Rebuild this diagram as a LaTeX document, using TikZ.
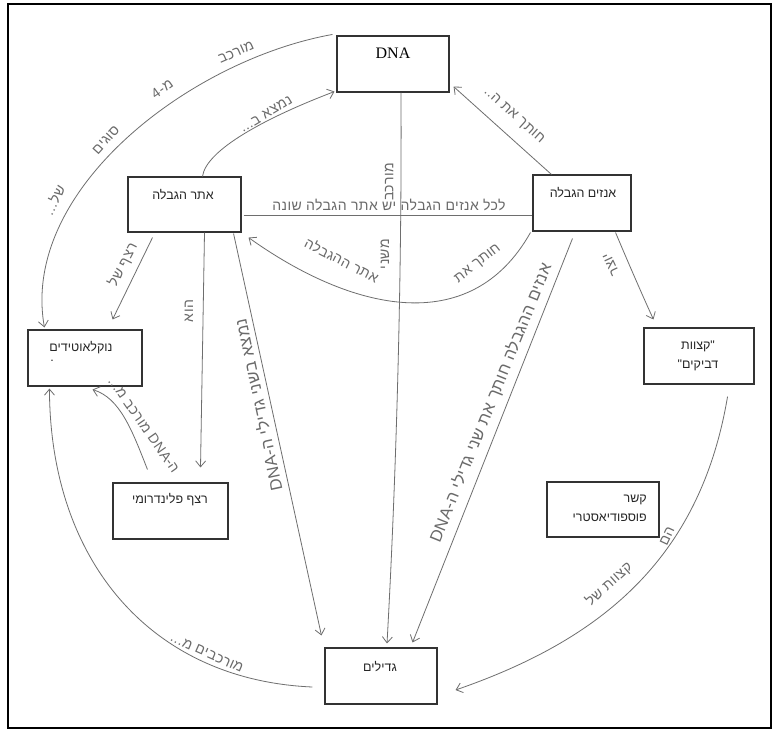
\documentclass[tikz,border=0pt]{standalone}
\usepackage{fontspec}
\setmainfont{Liberation Serif}
\newfontfamily\hebfont[Script=Hebrew]{Liberation Sans}
\newfontfamily\handfont[Script=Hebrew,LetterSpace=3]{Liberation Sans}
\TeXXeTstate=1
\usetikzlibrary{arrows.meta,calc}
\newcommand{\hb}[1]{\beginR#1\endR}
\definecolor{linegray}{HTML}{6E6E6E}
\definecolor{boxgray}{HTML}{333333}
\definecolor{handgray}{HTML}{6A6A6A}
\tikzset{
  box/.style={draw=boxgray, line width=1.1pt, inner sep=0pt},
  boxtext/.style={font=\hebfont\fontsize{12.5}{19}\selectfont, text=black!85, inner sep=0pt, align=center},
  conn/.style={draw=linegray, line width=0.8pt, -{Straight Barb[length=6pt,width=10pt]}},
  plainline/.style={draw=linegray, line width=0.8pt},
  lbl/.style={font=\handfont\fontsize{14}{15}\selectfont, text=handgray, inner sep=0pt},
  lblbig/.style={lbl, font=\handfont\fontsize{16.5}{17}\selectfont},
}
\begin{document}
\begin{tikzpicture}[x=1pt,y=-1pt]
\useasboundingbox (0,0) rectangle (778,732);
\fill[white] (0,0) rectangle (778,732);
\draw[black, line width=2.4pt] (8,4) rectangle (771,728);
% boxes
\node[box, minimum width=112pt, minimum height=56pt] (dna) at (393,64) {};
\node[box, minimum width=98pt, minimum height=56pt] (enz) at (582,203) {};
\node[box, minimum width=113pt, minimum height=55pt] (site) at (184.5,204.5) {};
\node[box, minimum width=114pt, minimum height=56pt] (nuc) at (85,358) {};
\node[box, minimum width=115pt, minimum height=56pt] (pal) at (170.5,511) {};
\node[box, minimum width=112pt, minimum height=56pt] (str) at (381,676) {};
\node[box, minimum width=110pt, minimum height=56pt] (sticky) at (699,356) {};
\node[box, minimum width=112pt, minimum height=55pt] (phos) at (603,509.5) {};
% box texts
\node[font=\fontsize{16}{18}\selectfont, inner sep=0pt] (dnat) at (393,53) {DNA};
\node[boxtext] (enzt) at (583,193) {\hb{אנזים הגבלה}};
\node[boxtext] (sitet) at (183,195) {\hb{אתר הגבלה}};
\node[boxtext] (nuct) at (81,348) {\hb{נוקלאוטידים}};
\node[boxtext] (nucdot) at (52,361) {.};
\node[boxtext] (palt) at (170,500) {\hb{רצף פלינדרומי}};
\node[boxtext] (strt) at (380,667) {\hb{גדילים}};
\node[boxtext] (stickyt) at (698,356) {\hb{"קצוות}\\\hb{דביקים"}};
\node[boxtext, align=right, anchor=east] (phost) at (647,508) {\hb{קשר}\\\hb{פוספודיאסטרי}};
% connectors
\draw[conn] ($(dna.north west)+(-4,-1)$) .. controls (190,60) and (20,190) .. ($(nuc.north west)+(17,-2)$);
\draw[conn] ($(site.north)+(18,0)$) .. controls (206,150) and (265,118) .. ($(dna.south west)+(-2,-1)$);
\draw[conn] ($(enz.north west)+(19,0)$) -- ($(dna.south east)+(4,-6)$);
\draw[plainline] ($(site.east)+(2,10.5)$) -- ($(enz.west)+(0,12)$);
\draw[conn] ($(enz.south west)+(-2,1)$) .. controls (470,340) and (350,310) .. ($(site.south east)+(7,5)$);
\draw[conn] ($(dna.south)+(8,0)$) .. controls (402,300) and (395,500) .. ($(str.north)+(6,-4)$);
\draw[conn] ($(site.south)+(-32,5)$) -- ($(nuc.north east)+(-30,-10)$);
\draw[conn] ($(site.south)+(20,0)$) -- ($(pal.north)+(30,-15)$);
\draw[conn] ($(site.south east)+(-8,1)$) -- ($(str.north west)+(-3,-12)$);
\draw[conn] ($(pal.north west)+(35,-13)$) .. controls (132,430) and (120,398) .. ($(nuc.south east)+(-50,3)$);
\draw[conn] ($(str.west)+(-12,11)$) .. controls (150,680) and (50,560) .. ($(nuc.south west)+(22,2)$);
\draw[conn] ($(enz.south west)+(40,7)$) -- ($(str.north east)+(-25,-5)$);
\draw[conn] ($(enz.south east)+(-16,1)$) .. controls (625,255) and (640,290) .. ($(sticky.north west)+(10,-8)$);
\draw[conn] ($(sticky.south east)+(-27,12)$) .. controls (700,560) and (600,640) .. ($(str.east)+(18,14)$);
% labels
\node[lbl, rotate=24] (l1a) at (236,52) {\hb{מורכב}};
\node[lbl, rotate=35] (l1b) at (162,89) {\hb{מ-4}};
\node[lbl, rotate=48] (l1c) at (106,140) {\hb{סוגים}};
\node[lbl, rotate=64] (l1d) at (54,200) {\hb{של...}};
\node[lbl, rotate=31] (l2) at (266,114) {\hb{נמצא ב...}};
\node[lbl, rotate=-42] (l3) at (514,116) {\hb{חותך את ה..}};
\node[lbl] (l4) at (389,205) {\hb{לכל אנזים הגבלה יש אתר הגבלה שונה}};
\node[lbl, rotate=38] (l5a) at (478,264) {\hb{חותך את}};
\node[lbl, rotate=-27] (l5b) at (342,260) {\hb{אתר ההגבלה}};
\node[lbl, rotate=90] (l6a) at (389,182) {\hb{מורכב}};
\node[lbl, rotate=90] (l6b) at (385,254) {\hb{משני}};
\node[lbl, rotate=63] (l7) at (123,265) {\hb{רצף של}};
\node[lbl, rotate=90] (l8) at (189,311) {\hb{הוא}};
\node[lblbig, rotate=102] (l9) at (258,405) {\hb{נמצא בשני גדילי ה-\beginL DNA\endL{}}};
\node[lbl, rotate=-55] (l10) at (144,425) {\hb{ה-\beginL DNA\endL{} מורכב מ...}};
\node[lbl, rotate=-24] (l11) at (207,653) {\hb{מורכבים מ...}};
\node[lblbig, rotate=68] (l12) at (491,403) {\hb{אנזים ההגבלה חותך את שני גדילי ה-\beginL DNA\endL{}}};
\node[lbl, rotate=115] (l13) at (611,265) {\hb{יוצר}};
\node[lbl, rotate=65] (l14a) at (667,536) {\hb{הם}};
\node[lbl, rotate=42] (l14b) at (609,584) {\hb{קצוות של}};
\end{tikzpicture}
\end{document}
